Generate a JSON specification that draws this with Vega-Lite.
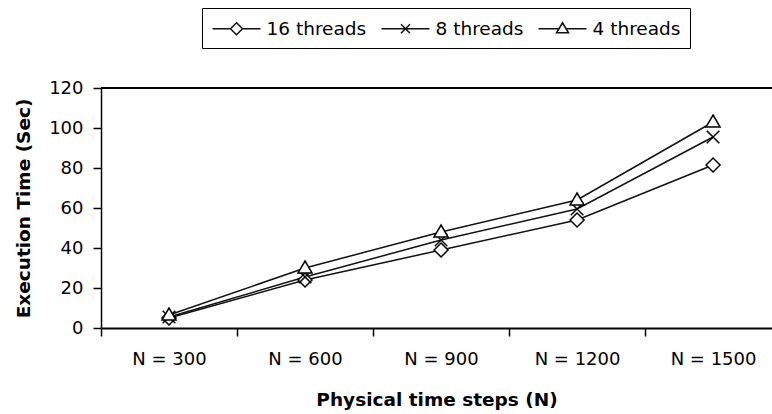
{
  "$schema": "https://vega.github.io/schema/vega-lite/v6.json",
  "width": 671,
  "height": 240,
  "autosize": {"type": "none"},
  "padding": {"left": 101, "top": 88, "right": 0, "bottom": 86},
  "background": "white",
  "config": {"view": {"stroke": null}, "font": "DejaVu Sans"},
  "data": {
    "values": [
      {"N": 300, "series": "16 threads", "time": 5},
      {"N": 600, "series": "16 threads", "time": 24},
      {"N": 900, "series": "16 threads", "time": 39},
      {"N": 1200, "series": "16 threads", "time": 54},
      {"N": 1500, "series": "16 threads", "time": 81.5},
      {"N": 300, "series": "8 threads", "time": 5.5},
      {"N": 600, "series": "8 threads", "time": 25.5},
      {"N": 900, "series": "8 threads", "time": 44},
      {"N": 1200, "series": "8 threads", "time": 59.5},
      {"N": 1500, "series": "8 threads", "time": 95.5},
      {"N": 300, "series": "4 threads", "time": 6.5},
      {"N": 600, "series": "4 threads", "time": 30},
      {"N": 900, "series": "4 threads", "time": 48},
      {"N": 1200, "series": "4 threads", "time": 64},
      {"N": 1500, "series": "4 threads", "time": 103}
    ]
  },
  "layer": [
    {
      "mark": {"type": "line", "strokeWidth": 1.5},
      "encoding": {
        "x": {
          "field": "N",
          "type": "quantitative",
          "scale": {"domain": [150, 1630], "nice": false, "zero": false},
          "axis": {
            "values": [150, 300, 450, 600, 750, 900, 1050, 1200, 1350, 1500],
            "labelExpr": "datum.value % 300 === 0 ? 'N = ' + datum.value : ''",
            "tickOpacity": {"condition": {"test": "datum.value % 300 === 0", "value": 0}, "value": 1},
            "grid": false,
            "tickSize": 8,
            "tickColor": "black",
            "tickWidth": 1.5,
            "domainColor": "black",
            "domainWidth": 2,
            "labelFontSize": 18,
            "labelColor": "black",
            "labelPadding": 14,
            "labelOverlap": false,
            "labelFlush": false,
            "title": "Physical time steps (N)",
            "titleFontSize": 18.5,
            "titleFontWeight": "bold",
            "titleColor": "black",
            "titleY": 62
          }
        },
        "y": {
          "field": "time",
          "type": "quantitative",
          "scale": {"domain": [0, 120], "nice": false, "zero": true},
          "axis": {
            "values": [0, 20, 40, 60, 80, 100, 120],
            "tickCount": 7,
            "grid": false,
            "tickSize": 8,
            "tickColor": "black",
            "tickWidth": 1.5,
            "domainColor": "black",
            "domainWidth": 1.5,
            "labelFontSize": 18,
            "labelColor": "black",
            "labelPadding": 10,
            "labelOverlap": false,
            "labelFlush": false,
            "title": "Execution Time (Sec)",
            "titleFontSize": 18.5,
            "titleFontWeight": "bold",
            "titleColor": "black",
            "titleX": -68,
            "titleY": 120
          }
        },
        "color": {
          "field": "series",
          "type": "nominal",
          "scale": {"domain": ["16 threads", "8 threads", "4 threads"], "range": ["#111111", "#111111", "#111111"]},
          "legend": {
            "orient": "none",
            "legendX": 101,
            "legendY": -80,
            "direction": "horizontal",
            "title": null,
            "strokeColor": "black",
            "padding": 9.5,
            "symbolSize": 400,
            "symbolOffset": 14,
            "symbolStrokeWidth": 1.5,
            "symbolStrokeColor": "black",
            "labelFontSize": 18.5,
            "labelColor": "black",
            "labelOffset": 19,
            "columnPadding": 12,
            "encode": {
              "symbols": {
                "update": {
                  "shape": {"signal": "datum.value === '16 threads' ? 'M-2.4,0L-0.6,0M0.6,0L2.4,0M0,-0.6L0.6,0L0,0.6L-0.6,0Z' : datum.value === '8 threads' ? 'M-2.4,0L2.4,0M-0.45,-0.45L0.45,0.45M-0.45,0.45L0.45,-0.45' : 'M-2.4,0L-0.36,0M0.36,0L2.4,0M0,-0.6L0.6,0.4L-0.6,0.4Z'"},
                  "fill": {"value": "white"},
                  "stroke": {"value": "black"}
                }
              }
            }
          }
        }
      }
    },
    {
      "transform": [{"filter": "datum.series === '16 threads'"}],
      "mark": {"type": "point", "shape": "M-1,0L0,-1L1,0L0,1Z", "filled": true, "fill": "white", "stroke": "black", "strokeWidth": 1.5, "opacity": 1, "size": 196},
      "encoding": {
        "x": {"field": "N", "type": "quantitative"},
        "y": {"field": "time", "type": "quantitative"}
      }
    },
    {
      "transform": [{"filter": "datum.series === '8 threads'"}],
      "mark": {"type": "point", "shape": "M-0.9,-0.9L0.9,0.9M-0.9,0.9L0.9,-0.9", "filled": true, "fill": "white", "stroke": "black", "strokeWidth": 1.5, "opacity": 1, "size": 196},
      "encoding": {
        "x": {"field": "N", "type": "quantitative"},
        "y": {"field": "time", "type": "quantitative"}
      }
    },
    {
      "transform": [{"filter": "datum.series === '4 threads'"}],
      "mark": {"type": "point", "shape": "M0,-1L1,0.7L-1,0.7Z", "filled": true, "fill": "white", "stroke": "black", "strokeWidth": 1.5, "opacity": 1, "size": 196},
      "encoding": {
        "x": {"field": "N", "type": "quantitative"},
        "y": {"field": "time", "type": "quantitative"}
      }
    },
    {
      "mark": {"type": "rule", "color": "black", "strokeWidth": 1.5},
      "encoding": {"y": {"datum": 120, "type": "quantitative"}}
    }
  ]
}
